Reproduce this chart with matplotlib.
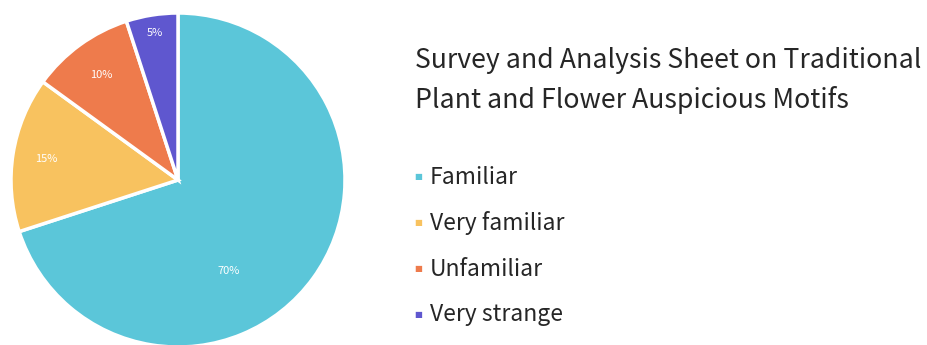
import matplotlib
matplotlib.use('Agg')
import matplotlib.pyplot as plt
import numpy as np

plt.rcParams['font.family'] = ['Noto Sans CJK SC', 'DejaVu Sans']

# 数据
categories = ['Familiar', 'Very familiar', 'Unfamiliar', 'Very strange']
shares = [70, 15, 10, 5]
colors = ['#5bc6d9', '#f8c25f', '#ee7b4c', '#5f57cf']
title_lines = ['Survey and Analysis Sheet on Traditional',
               'Plant and Flower Auspicious Motifs']

fig = plt.figure(figsize=(9.28, 3.45), dpi=100)

# 饼图区域（底部略微超出画布）
ax = fig.add_axes([11 / 928, -2 / 345, 334 / 928, 334 / 345])
wedges, texts, autotexts = ax.pie(
    shares, colors=colors, startangle=90, counterclock=False,
    autopct='%d%%', pctdistance=0.8,
    wedgeprops=dict(edgecolor='white', linewidth=2.5),
    textprops=dict(color='white', fontsize=8, fontweight='light'))
ax.set_xlim(-1, 1)
ax.set_ylim(-1, 1)
ax.set_aspect('equal')

# 调整百分比标签的位置
label_r = [0.62, 0.8, 0.78, 0.89]
label_shift = [-25, 0, 0, 0]
for w, t, r, s in zip(wedges, autotexts, label_r, label_shift):
    ang = np.deg2rad((w.theta1 + w.theta2) / 2 + s)
    t.set_position((r * np.cos(ang), r * np.sin(ang)))

# 标题
for k, line in enumerate(title_lines):
    fig.text(415 / 928, 1 - (60 + 40 * k) / 345, line, fontsize=19.2,
             fontweight='light', color='#262626', va='center', ha='left')

# 图例
for i, (name, c) in enumerate(zip(categories, colors)):
    y = 1 - (177 + 46 * i) / 345
    fig.text(418 / 928, y, '\u25a0', color=c, fontsize=6,
             va='center', ha='center', family='DejaVu Sans')
    fig.text(430 / 928, y, name, fontsize=16.5, fontweight='light',
             color='#262626', va='center', ha='left')

fig.savefig('out.png', dpi=100, facecolor='white')
